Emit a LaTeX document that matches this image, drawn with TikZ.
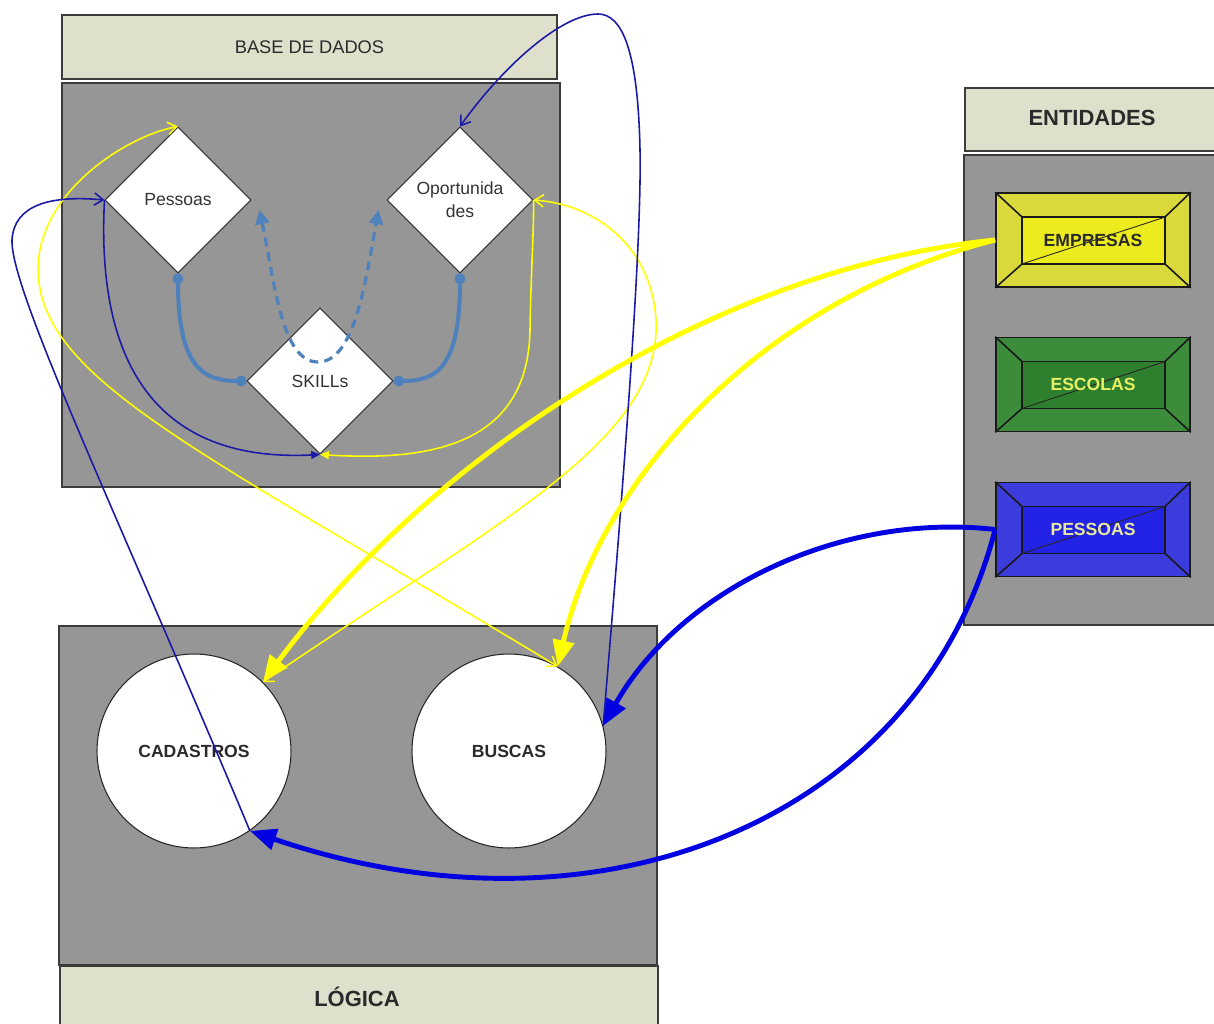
\documentclass[tikz,border=0pt]{standalone}
\usepackage{fontspec}
\setmainfont{Liberation Sans}
\usetikzlibrary{shapes.geometric,arrows.meta,calc}

\definecolor{hdrfill}{HTML}{DEE0CC}
\definecolor{panelgray}{HTML}{969696}
\definecolor{panelline}{HTML}{3C3C3C}
\definecolor{steel}{HTML}{4F81BD}
\definecolor{yel}{HTML}{FFFF00}
\definecolor{navy}{HTML}{1A1AA6}
\definecolor{royal}{HTML}{0000E0}
\definecolor{empOut}{HTML}{D9D93C}
\definecolor{empIn}{HTML}{EBEB1E}
\definecolor{escOut}{HTML}{3C8C3C}
\definecolor{escIn}{HTML}{2E802E}
\definecolor{pesOut}{HTML}{3C3CDC}
\definecolor{pesIn}{HTML}{2323E6}
\definecolor{escTxt}{HTML}{E6F064}
\definecolor{pesTxt}{HTML}{E8E8A0}
\definecolor{darktxt}{HTML}{2A2A2A}

% bevelled entity box: name, centre, outer fill, inner fill, text colour, label
\newcommand\bevelbox[6]{%
  \node[bevelouter, fill=#3] (#1) at (#2) {};
  \coordinate (#1-inw) at ($(#1.north west)+(27,25)$);
  \coordinate (#1-ine) at ($(#1.north east)+(-26,25)$);
  \coordinate (#1-isw) at ($(#1.south west)+(27,-24)$);
  \coordinate (#1-ise) at ($(#1.south east)+(-26,-24)$);
  \draw[bevelline, fill=#4] (#1-inw) rectangle (#1-ise);
  \draw[bevelline] (#1.north west) -- (#1-inw)
                   (#1.north east) -- (#1-ine)
                   (#1.south west) -- (#1-isw)
                   (#1.south east) -- (#1-ise);
  \draw[black!85, line width=0.5pt] (#1-isw) -- (#1-ine);
  \node[font=\bfseries\fontsize{10}{12}\selectfont, text=#5] at (#1) {#6};
}

\begin{document}
\begin{tikzpicture}[x=0.02cm, y=-0.02cm,
  panel/.style={draw=panelline, fill=panelgray, line width=1.2pt},
  header/.style={draw=panelline, fill=hdrfill, line width=1.2pt, inner sep=0pt,
                 text=darktxt},
  dia/.style={diamond, aspect=1, draw=black!80, fill=white, line width=0.6pt,
              minimum width=2.92cm, minimum height=2.92cm, inner sep=0pt,
              align=center, text=black!80, font=\fontsize{10}{13}\selectfont},
  circ/.style={circle, draw=black!85, fill=white, line width=0.6pt,
               minimum size=3.88cm, inner sep=0pt, text=darktxt,
               font=\bfseries\fontsize{10}{12}\selectfont},
  bevelouter/.style={rectangle, draw=black!90, line width=1pt,
                     minimum width=3.88cm, minimum height=1.88cm, inner sep=0pt},
  bevelline/.style={draw=black!90, line width=0.9pt},
  solidlink/.style={draw=steel, line width=2.3pt,
                    {Circle[length=6pt]}-{Circle[length=6pt]}},
  dashlink/.style={draw=steel, line width=1.8pt, dash pattern=on 5pt off 3.5pt,
                   {Triangle[length=8pt,width=8pt]}-{Triangle[length=8pt,width=8pt]}},
  thinY/.style={draw=yel, line width=0.9pt},
  thinB/.style={draw=navy, line width=0.9pt},
  barb/.tip={Straight Barb[length=5pt,width=7pt]},
  smalltri/.tip={Triangle[length=5pt,width=4.5pt]},
  thickY/.style={draw=yel, line width=2.8pt, -{Triangle[length=15pt,width=12pt]}},
  thickB/.style={draw=royal, line width=2.8pt, -{Triangle[length=15pt,width=12pt]}}
]
\useasboundingbox (0,0) rectangle (1214,1024);

% ---- database block ----
\node[header, minimum width=9.9cm, minimum height=1.28cm,
      font=\fontsize{10.4}{12}\selectfont] (bdh) at (309.5,47) {BASE DE DADOS};
\draw[panel] (62,83) rectangle (560,487);

\node[dia] (pes) at (178,200) {Pessoas};
\node[dia] (op)  at (460,200) {Oportunida\\des};
\node[dia] (sk)  at (320,381) {SKILLs};

% ---- entities block ----
\node[header, minimum width=5.1cm, minimum height=1.26cm, anchor=north west] (enth) at (964,87) {};
\node[font=\bfseries\fontsize{12.5}{14}\selectfont, text=darktxt] at (1092,118) {ENTIDADES};
\draw[panel] (964,155) rectangle (1220,625);

\bevelbox{emp}{1093,240}{empOut}{empIn}{darktxt}{EMPRESAS}
\bevelbox{esc}{1093,384.5}{escOut}{escIn}{escTxt}{ESCOLAS}
\bevelbox{pesE}{1093,529.5}{pesOut}{pesIn}{pesTxt}{PESSOAS}

% ---- logic block ----
\draw[panel] (59,626) rectangle (657,965);
\node[header, minimum width=11.96cm, minimum height=1.5cm, anchor=north west] (logh) at (59,965) {};
\node[font=\bfseries\fontsize{12.5}{14}\selectfont, text=darktxt] at (357,997) {LÓGICA};

\node[circ] (cad) at (194,751) {CADASTROS};
\node[circ] (bus) at (509,751) {BUSCAS};

% ---- links inside the database ----
\draw[solidlink] (pes.south) .. controls (178,370) and (205,381) .. (sk.west);
\draw[solidlink] (op.south) .. controls (460,370) and (435,381) .. (sk.east);
\draw[dashlink] ([shift={(8,10)}]pes.east) .. controls (275,285) and (282,362) .. (318,362)
                .. controls (354,362) and (365,285) .. ([shift={(-8,10)}]op.west);

% ---- thin yellow connectors ----
\draw[thinY, barb-barb] (bus.60) .. controls (200,450) and (40,380) .. (38,270)
      .. controls (38,190) and (130,135) .. (pes.north);
\draw[thinY, barb-barb] (cad.45) .. controls (500,520) and (662,440) .. (656,320)
      .. controls (652,250) and (600,205) .. (op.east);
\draw[thinY, smalltri-] (sk.south) .. controls (440,462) and (528,440) .. (530,330)
      .. controls (531,270) and (534,230) .. (op.east);

% ---- thin blue connectors ----
\draw[thinB, -barb] (bus.15) .. controls (622,500) and (642,250) .. (640,150)
      .. controls (638,50) and (622,14) .. (598,14)
      .. controls (560,14) and (500,70) .. (op.north);
\draw[thinB, -barb] (cad.-55) .. controls (120,520) and (10,290) .. (12,240)
      .. controls (14,205) and (50,195) .. (pes.west);
\draw[thinB, -smalltri] (pes.west) .. controls (95,380) and (170,462) .. (sk.south);

% ---- thick connectors from the entities ----
\draw[thickY] (emp.west) .. controls (700,270) and (420,470) .. (cad.45);
\draw[thickY] (emp.west) .. controls (760,300) and (600,480) .. (bus.60);
\draw[thickB] (pesE.west) .. controls (840,512) and (680,590) .. (bus.15);
\draw[thickB] (pesE.west) .. controls (920,820) and (600,950) .. (cad.-55);
\end{tikzpicture}
\end{document}
